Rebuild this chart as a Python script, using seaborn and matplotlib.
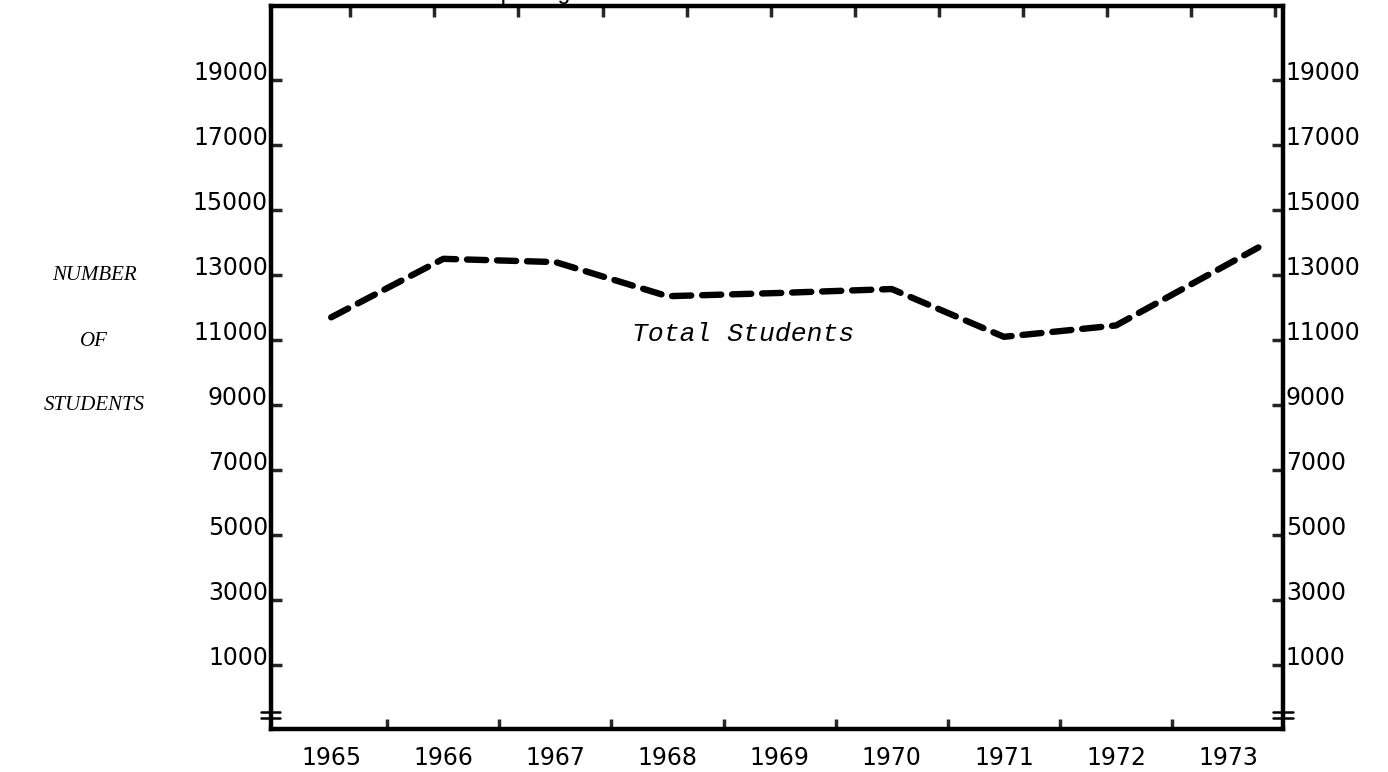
import numpy as np
import pandas as pd
import seaborn as sns
import matplotlib.pyplot as plt
from matplotlib.lines import Line2D

# Spring term enrolment
years = [1965, 1966, 1967, 1968, 1969, 1970, 1971, 1972, 1973.27]
students = [11700, 13500, 13400, 12350, 12450, 12570, 11100, 11450, 13850]
label_years = [1965, 1966, 1967, 1968, 1969, 1970, 1971, 1972, 1973]
year_labels = ["1965", "1966", "1967", "1968", "1969", "1970", "1971", "1972", "1973"]
y_ticks = [1000, 3000, 5000, 7000, 9000, 11000, 13000, 15000, 17000, 19000]

df = pd.DataFrame({"Year": years, "Students": students})

sns.set_style("white")
plt.rcParams["font.family"] = ["DejaVu Sans"]
plt.rcParams["text.color"] = "black"

fig = plt.figure(figsize=(13.88, 7.72), dpi=100)
ax = fig.add_axes([0.195, 0.0557, 0.7294, 0.9365])

sns.lineplot(data=df, x="Year", y="Students", ax=ax, color="black", lw=4.6,
             linestyle=(0, (3.0, 1.7)), dash_capstyle="round", sort=False)

ax.set_xlim(1964.46, 1973.49)
ax.set_ylim(-969, 21280)

for s in ax.spines.values():
    s.set_linewidth(3.2)
    s.set_color("black")

# x: tick marks between years, labels centred on years
ax.set_xticks(np.arange(1965.5, 1973, 1.0))
ax.set_xticklabels([])
ax.set_xticks(label_years, minor=True)
ax.set_xticklabels(year_labels, minor=True)
ax.tick_params(axis="x", which="major", direction="in", length=7, width=2.5, bottom=True)
ax.tick_params(axis="x", which="minor", length=0, pad=12, labelsize=17, labelcolor="black")

# y: ticks and labels on both sides
ax.set_yticks(y_ticks)
ax.set_yticklabels([str(v) for v in y_ticks])
ax.tick_params(axis="y", direction="in", length=8, width=2.5, left=True, right=True,
               labelleft=True, labelright=True, pad=2, labelsize=17, labelcolor="black")
for tick in ax.yaxis.get_major_ticks():
    tick.label1.set_verticalalignment("baseline")
    tick.label2.set_verticalalignment("baseline")
ax.set_xlabel("")
ax.set_ylabel("")

# tick marks along the top edge
top = ax.secondary_xaxis("top")
top.set_xticks(np.arange(1965.17, 1973.49, 0.75))
top.set_xticklabels([])
top.tick_params(direction="in", length=8, width=2.5)
top.spines["top"].set_visible(False)

# axis-break marks near the bottom of both vertical axes
for xc in (0.0, 1.0):
    for yc in (0.0235, 0.0155):
        ax.add_line(Line2D([xc - 0.0095, xc + 0.0095], [yc, yc], transform=ax.transAxes,
                           color="black", lw=1.8, clip_on=False))

ax.text(1968.67, 11200, "Total Students", fontsize=19, fontstyle="italic",
        family="Liberation Mono", ha="center", va="center", color="black")

for label, yp in (("NUMBER", 276), ("OF", 341), ("STUDENTS", 405)):
    fig.text(94 / 1388, 1 - yp / 772, label, fontsize=15, fontstyle="italic",
             family="Liberation Serif", ha="center", va="center", color="black")

fig.text(571 / 1388, 1 + 7 / 772, "Spring Terms", fontsize=17,
         family="Liberation Mono", ha="center", va="center", color="black")

fig.savefig("out.png", dpi=100)
